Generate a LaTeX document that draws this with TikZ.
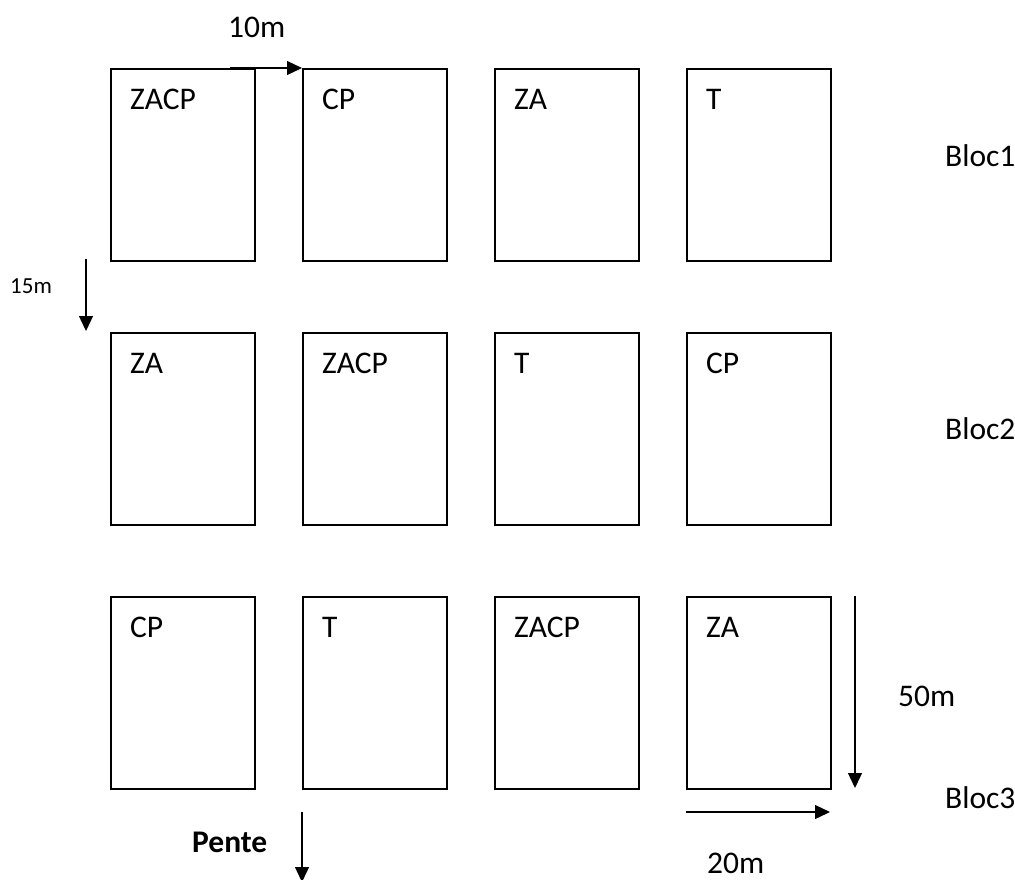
\documentclass[tikz,border=0pt]{standalone}
\usepackage{fontspec}
\setmainfont{Carlito}
\usetikzlibrary{arrows.meta}
\begin{document}
\begin{tikzpicture}[x=1pt,y=-1pt,
  plot/.style={draw=black,line width=1.6pt,minimum width=144pt,minimum height=192pt,anchor=north west,inner sep=0pt},
  lab/.style={anchor=base west,inner sep=0pt,font=\fontsize{31.5}{36}\selectfont},
  smalllab/.style={anchor=base west,inner sep=0pt,font=\fontsize{23}{27}\selectfont},
  dim/.style={line width=1.3pt,-{Triangle[length=15pt,width=14pt]}}]
\useasboundingbox (0,0) rectangle (1015,879);
% row 1
\node[plot] (b11) at (110,68) {};
\node[plot] (b12) at (302,68) {};
\node[plot] (b13) at (494,68) {};
\node[plot] (b14) at (686,68) {};
% row 2
\node[plot] (b21) at (110,332) {};
\node[plot] (b22) at (302,332) {};
\node[plot] (b23) at (494,332) {};
\node[plot] (b24) at (686,332) {};
% row 3
\node[plot] (b31) at (110,596) {};
\node[plot] (b32) at (302,596) {};
\node[plot] (b33) at (494,596) {};
\node[plot] (b34) at (686,596) {};
% labels in boxes
\node[lab] (t11) at (130,109) {ZACP};
\node[lab] (t12) at (322,109) {CP};
\node[lab] (t13) at (514,109) {ZA};
\node[lab] (t14) at (706,109) {T};
\node[lab] (t21) at (130,373) {ZA};
\node[lab] (t22) at (322,373) {ZACP};
\node[lab] (t23) at (514,373) {T};
\node[lab] (t24) at (706,373) {CP};
\node[lab] (t31) at (130,637) {CP};
\node[lab] (t32) at (322,637) {T};
\node[lab] (t33) at (514,637) {ZACP};
\node[lab] (t34) at (706,637) {ZA};
% bloc labels
\node[lab] (bloc1) at (945,166) {Bloc1};
\node[lab] (bloc2) at (945,439) {Bloc2};
\node[lab] (bloc3) at (945,808) {Bloc3};
% dimension labels
\node[lab] (d10) at (228,37) {10m};
\node[smalllab] (d15) at (10,293) {15m};
\node[lab] (d50) at (898,706) {50m};
\node[lab] (d20) at (707,873) {20m};
\node[lab,font=\fontsize{31.5}{36}\selectfont\bfseries] (pente) at (192,852) {Pente};
% arrow coordinates
\coordinate (a10s) at (230,68);
\coordinate (a10e) at (b12.north west);
\coordinate (a15s) at (86,259);
\coordinate (a15e) at (86,331);
\coordinate (a50s) at (855,596);
\coordinate (a50e) at (855,788);
\coordinate (a20s) at (686,812);
\coordinate (a20e) at (830,812);
\coordinate (aps) at (302,812);
\coordinate (ape) at (302,882);
\draw[dim] (a10s) -- (a10e);
\draw[dim] (a15s) -- (a15e);
\draw[dim] (a50s) -- (a50e);
\draw[dim] (a20s) -- (a20e);
\draw[dim] (aps) -- (ape);
\end{tikzpicture}
\end{document}
